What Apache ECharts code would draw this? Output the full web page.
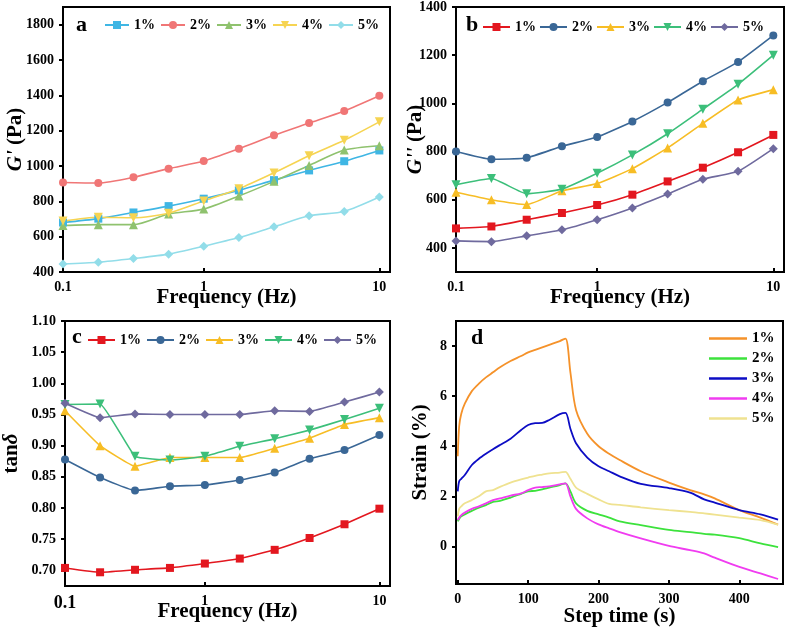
<!DOCTYPE html>
<html><head><meta charset="utf-8">
<script src="https://cdn.jsdelivr.net/npm/echarts@6/dist/echarts.min.js"></script>
<style>html,body{margin:0;padding:0;background:#fff}#c{width:788px;height:628px}</style>
</head><body><div id="c"></div>
<script>
// ---- data ----
const FREQ = [0.158, 0.251, 0.398, 0.631, 1, 1.585, 2.512, 3.981, 6.31, 10];
const X_TICKS = [0.158, 1, 10];
const X_TICK_LABELS = ['0.1', '1', '10'];
const LEGEND = ['1%', '2%', '3%', '4%', '5%'];

// panel a: G' (Pa)
const GP_1 = [680, 702, 737, 773, 815, 862, 920, 975, 1027, 1088];
const GP_2 = [907, 904, 936, 985, 1028, 1098, 1174, 1243, 1312, 1398];
const GP_3 = [663, 668, 668, 728, 756, 830, 913, 1003, 1090, 1115];
const GP_4 = [688, 710, 707, 733, 802, 871, 961, 1058, 1146, 1250];
const GP_5 = [445, 455, 476, 501, 546, 595, 656, 718, 743, 824];

// panel b: G'' (Pa)
const GPP_1 = [481, 489, 517, 545, 578, 621, 676, 733, 797, 869];
const GPP_2 = [800, 768, 774, 822, 860, 925, 1004, 1092, 1172, 1282];
const GPP_3 = [631, 600, 580, 637, 667, 729, 815, 917, 1014, 1057];
const GPP_4 = [662, 688, 625, 644, 710, 786, 874, 976, 1079, 1200];
const GPP_5 = [429, 426, 450, 475, 517, 566, 624, 685, 718, 812];

// panel c: tan delta
const TAN_1 = [0.704, 0.697, 0.701, 0.704, 0.711, 0.719, 0.733, 0.752, 0.774, 0.799];
const TAN_2 = [0.878, 0.849, 0.828, 0.835, 0.837, 0.845, 0.857, 0.879, 0.893, 0.917];
const TAN_3 = [0.956, 0.900, 0.867, 0.881, 0.881, 0.881, 0.896, 0.912, 0.934, 0.945];
const TAN_4 = [0.966, 0.967, 0.883, 0.877, 0.883, 0.899, 0.911, 0.925, 0.942, 0.960];
const TAN_5 = [0.968, 0.945, 0.951, 0.950, 0.950, 0.950, 0.956, 0.955, 0.970, 0.986];

// panel d: strain (%) vs step time (s)
const D_TIME = [0, 2, 5, 10, 20, 30, 40, 50, 60, 75, 90, 100, 110, 120, 130, 145, 153, 160, 168, 184, 200, 215, 230, 260, 300, 330, 350, 365, 400, 430, 455];
const STRAIN_1 = [3.6, 4.8, 5.3, 5.7, 6.2, 6.5, 6.75, 6.95, 7.15, 7.4, 7.6, 7.75, 7.85, 7.95, 8.05, 8.2, 8.3, 6.95, 5.45, 4.5, 4.0, 3.7, 3.45, 3.0, 2.55, 2.25, 2.08, 1.92, 1.45, 1.15, 0.87];
const STRAIN_2 = [1.0, 1.1, 1.2, 1.28, 1.42, 1.55, 1.65, 1.78, 1.82, 1.95, 2.1, 2.2, 2.22, 2.28, 2.35, 2.45, 2.52, 2.2, 1.72, 1.42, 1.28, 1.15, 1.0, 0.85, 0.66, 0.57, 0.5, 0.47, 0.33, 0.12, -0.03];
const STRAIN_3 = [2.2, 2.6, 2.7, 2.85, 3.25, 3.5, 3.7, 3.88, 4.05, 4.3, 4.65, 4.85, 4.92, 4.93, 5.05, 5.28, 5.33, 4.7, 4.12, 3.55, 3.2, 3.0, 2.8, 2.5, 2.33, 2.15, 1.88, 1.75, 1.45, 1.28, 1.07];
const STRAIN_4 = [1.05, 1.15, 1.25, 1.35, 1.5, 1.6, 1.72, 1.85, 1.92, 2.03, 2.12, 2.25, 2.35, 2.37, 2.4, 2.48, 2.52, 2.0, 1.5, 1.12, 0.88, 0.72, 0.57, 0.32, 0.02, -0.15, -0.28, -0.45, -0.82, -1.08, -1.3];
const STRAIN_5 = [1.2, 1.5, 1.6, 1.72, 1.85, 2.0, 2.2, 2.25, 2.38, 2.55, 2.68, 2.75, 2.82, 2.87, 2.92, 2.95, 2.98, 2.7, 2.35, 2.1, 1.88, 1.7, 1.66, 1.56, 1.45, 1.38, 1.32, 1.27, 1.15, 1.05, 0.87];

const Y_A_TICKS = [400, 600, 800, 1000, 1200, 1400, 1600, 1800];
const Y_B_TICKS = [400, 600, 800, 1000, 1200, 1400];
const Y_C_TICKS = [0.70, 0.75, 0.80, 0.85, 0.90, 0.95, 1.00, 1.05, 1.10];
const Y_D_TICKS = [0, 2, 4, 6, 8];
const X_D_TICKS = [0, 100, 200, 300, 400];

// ---- styling ----
const FONT = "'Liberation Serif', 'Times New Roman', serif";
const COLORS_A = ['#3fb6e4', '#f07676', '#8fc26e', '#f6d452', '#92dde9'];
const COLORS_BC = ['#e3171f', '#3a6796', '#f7bd25', '#3cbf7a', '#6f6a9e'];
const COLORS_D = ['#f5922a', '#3ce23c', '#0c0cc4', '#f03cf0', '#efe290'];
const SYMBOLS = ['rect', 'circle', 'triangle', 'triangle', 'diamond'];
const ROTATES = [0, 0, 0, 180, 0];
const SYMSIZES = [8, 8, 9, 9, 9];

const labelStyle = {color: '#000', fontFamily: FONT, fontWeight: 'bold', fontSize: 14};
const richName = {
  i: {fontFamily: FONT, fontWeight: 'bold', fontStyle: 'italic', fontSize: 21, color: '#000'},
  n: {fontFamily: FONT, fontWeight: 'bold', fontSize: 21, color: '#000'}
};
const nameStyle = {color: '#000', fontFamily: FONT, fontWeight: 'bold', fontSize: 21, rich: richName};

function logLabel(big) {
  return function (v) {
    for (let i = 0; i < X_TICKS.length; i++) {
      if (Math.abs(Math.log10(v) - Math.log10(X_TICKS[i])) < 0.01) {
        return (big && i === 0) ? '{big|' + X_TICK_LABELS[i] + '}' : X_TICK_LABELS[i];
      }
    }
    return '';
  };
}

function xLog(gi, big) {
  return {
    type: 'log', gridIndex: gi, min: X_TICKS[0], max: 11.5, logBase: 10,
    name: 'Frequency (Hz)', nameLocation: 'middle', nameGap: 15, nameTextStyle: nameStyle, nameMoveOverlap: false,
    axisLine: {show: true, onZero: false, lineStyle: {color: '#000', width: 2}},
    axisTick: {show: true, inside: true, length: 4, lineStyle: {color: '#000', width: 2}},
    axisLabel: Object.assign({}, labelStyle, {margin: 8, showMaxLabel: false, formatter: logLabel(big),
      rich: {big: {fontFamily: FONT, fontWeight: 'bold', fontSize: 18, color: '#000'}}}),
    splitLine: {show: false}, minorTick: {show: false}
  };
}

function yVal(gi, min, max, ticks, name, gap, fmt) {
  return {
    type: 'value', gridIndex: gi, min: min, max: max,
    name: name, nameLocation: 'middle', nameGap: gap, nameTextStyle: nameStyle, nameMoveOverlap: false,
    axisLine: {show: true, onZero: false, lineStyle: {color: '#000', width: 2}},
    axisTick: {show: true, inside: false, length: 4, customValues: ticks, lineStyle: {color: '#000', width: 2}},
    axisLabel: Object.assign({}, labelStyle, {margin: 9, customValues: ticks, formatter: fmt || (v => String(v))}),
    splitLine: {show: false}
  };
}

function freqSeries(prefix, gi, arrays, colors, smooth) {
  return arrays.map((arr, k) => ({
    type: 'line', name: prefix + LEGEND[k], xAxisIndex: gi, yAxisIndex: gi,
    data: FREQ.map((f, i) => [f, arr[i]]),
    symbol: SYMBOLS[k], symbolRotate: ROTATES[k], symbolSize: SYMSIZES[k],
    smooth: smooth, clip: false,
    lineStyle: {color: colors[k], width: 1.6},
    itemStyle: {color: colors[k]}
  }));
}

function strainSeries(arrays) {
  return arrays.map((arr, k) => ({
    type: 'line', name: 'd' + LEGEND[k], xAxisIndex: 3, yAxisIndex: 3,
    data: D_TIME.map((t, i) => [t, arr[i]]),
    symbol: 'none', smooth: 0.3,
    lineStyle: {color: COLORS_D[k], width: 1.8},
    itemStyle: {color: COLORS_D[k]}
  }));
}

const legendText = {color: '#000', fontFamily: FONT, fontWeight: 'bold', fontSize: 14};
function hLegend(prefix, left, top, w, gap) {
  return {
    data: LEGEND.map(n => prefix + n), left: left, top: top, orient: 'horizontal',
    itemWidth: w, itemHeight: 10, itemGap: gap, textStyle: legendText,
    formatter: n => n.slice(1), selectedMode: false, padding: 0
  };
}

const option = {
  animation: false,
  backgroundColor: '#fff',
  grid: [
    {left: 63, top: 7, width: 327, height: 265, show: true, borderColor: '#000', borderWidth: 2, backgroundColor: 'transparent'},
    {left: 456, top: 7, width: 328, height: 265, show: true, borderColor: '#000', borderWidth: 2, backgroundColor: 'transparent'},
    {left: 63, top: 321, width: 327, height: 265, show: true, borderColor: '#000', borderWidth: 2, backgroundColor: 'transparent'},
    {left: 456, top: 321, width: 327, height: 263, show: true, borderColor: '#000', borderWidth: 2, backgroundColor: 'transparent'}
  ],
  xAxis: [
    xLog(0, false), xLog(1, false), xLog(2, true),
    {
      type: 'value', gridIndex: 3, min: -2.5, max: 462,
      name: 'Step time (s)', nameLocation: 'middle', nameGap: 22, nameTextStyle: nameStyle, nameMoveOverlap: false,
      axisLine: {show: true, onZero: false, lineStyle: {color: '#000', width: 2}},
      axisTick: {show: true, inside: true, length: 4, customValues: X_D_TICKS, lineStyle: {color: '#000', width: 2}},
      axisLabel: Object.assign({}, labelStyle, {margin: 8, customValues: X_D_TICKS}),
      splitLine: {show: false}
    }
  ],
  yAxis: [
    yVal(0, 400, 1900, Y_A_TICKS, "{i|G'} {n|(Pa)}", 37),
    yVal(1, 300, 1400, Y_B_TICKS, "{i|G''} {n|(Pa)}", 30),
    yVal(2, 0.675, 1.10, Y_C_TICKS, "{n|tan}{i|δ}", 43, v => v.toFixed(2)),
    yVal(3, -1.5, 9, Y_D_TICKS, "{n|Strain (%)}", 25)
  ],
  legend: [
    hLegend('a', 104, 18, 24, 5),
    hLegend('b', 482, 20, 27, 3),
    hLegend('c', 87, 333, 27, 5),
    {
      data: LEGEND.map(n => 'd' + n), left: 709, top: 331, orient: 'vertical',
      icon: 'rect', itemWidth: 38, itemHeight: 2.5, itemGap: 5, textStyle: Object.assign({}, legendText, {fontSize: 15}),
      formatter: n => n.slice(1), selectedMode: false, padding: 0
    }
  ],
  graphic: [
    {type: 'text', left: 76, top: 14, style: {text: 'a', font: "bold 22px 'Liberation Serif', serif", fill: '#000'}},
    {type: 'text', left: 466, top: 14, style: {text: 'b', font: "bold 22px 'Liberation Serif', serif", fill: '#000'}},
    {type: 'text', left: 72, top: 326, style: {text: 'c', font: "bold 22px 'Liberation Serif', serif", fill: '#000'}},
    {type: 'text', left: 471, top: 327, style: {text: 'd', font: "bold 22px 'Liberation Serif', serif", fill: '#000'}}
  ],
  series: [].concat(
    freqSeries('a', 0, [GP_1, GP_2, GP_3, GP_4, GP_5], COLORS_A, 0.25),
    freqSeries('b', 1, [GPP_1, GPP_2, GPP_3, GPP_4, GPP_5], COLORS_BC, 0.15),
    freqSeries('c', 2, [TAN_1, TAN_2, TAN_3, TAN_4, TAN_5], COLORS_BC, 0.1),
    strainSeries([STRAIN_1, STRAIN_2, STRAIN_3, STRAIN_4, STRAIN_5])
  )
};

const chart = echarts.init(document.getElementById('c'), null, {renderer: 'canvas'});
chart.setOption(option);
</script>
</body></html>
